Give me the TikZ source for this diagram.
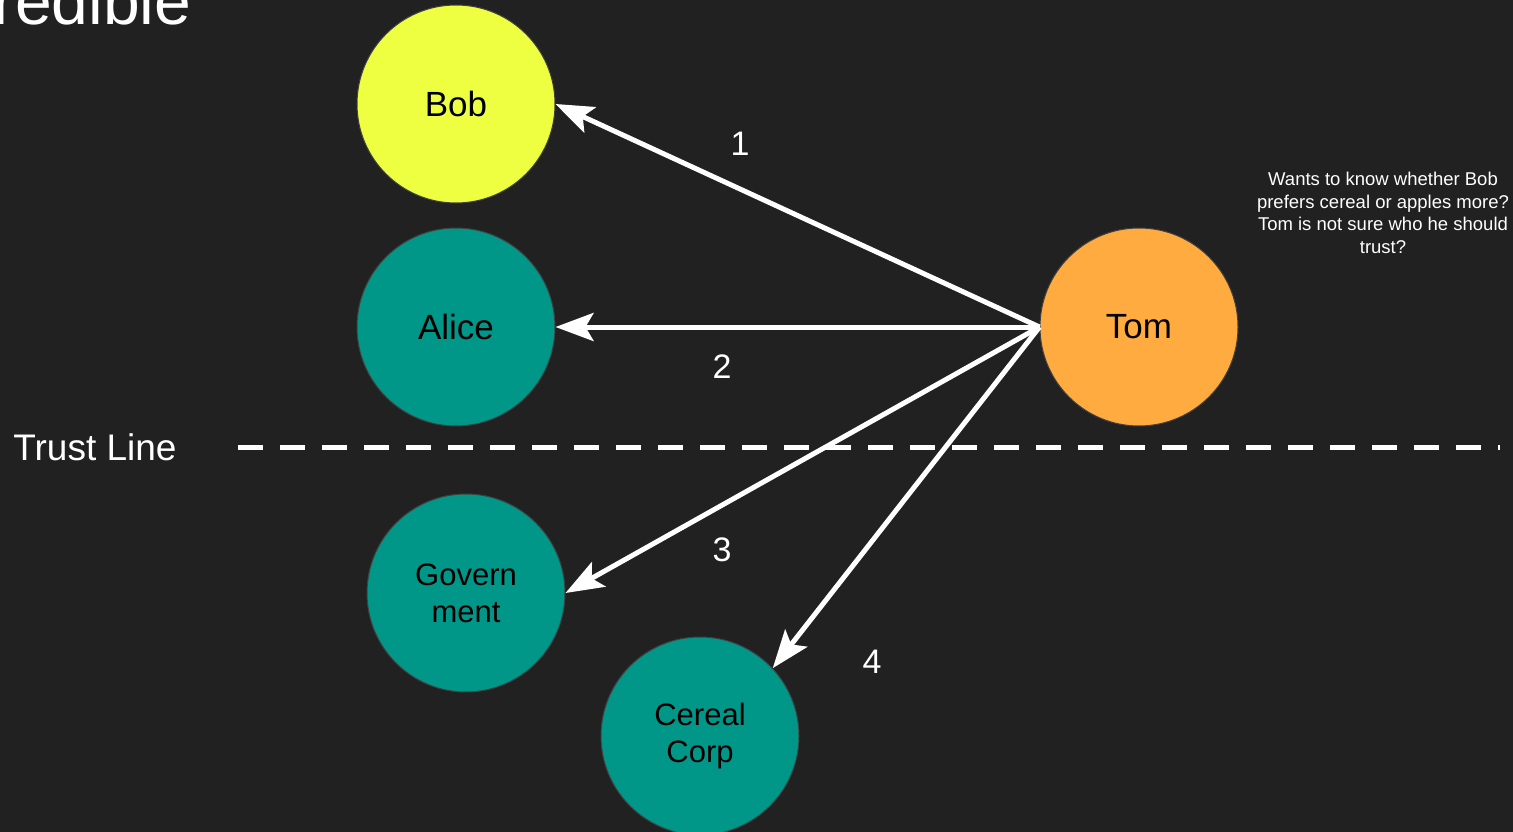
\documentclass[tikz,border=0pt]{standalone}
\usepackage{fontspec}
\setmainfont{Liberation Sans}
\usetikzlibrary{arrows.meta}

\definecolor{bgdark}{HTML}{212121}
\definecolor{lime}{HTML}{EEFF41}
\definecolor{teal}{HTML}{009688}
\definecolor{amber}{HTML}{FFAB40}

\begin{document}
\begin{tikzpicture}[x=1pt,y=-1pt,
  person/.style={circle,draw=black!75,line width=1pt,minimum size=198pt,inner sep=0pt,
    align=center,text=black,font=\fontsize{35}{40}\selectfont},
  party/.style={person,fill=teal,font=\fontsize{31}{37}\selectfont},
  flow/.style={white,line width=5pt,-{Stealth[length=38pt,width=28pt,inset=8pt]}},
  num/.style={text=white,font=\fontsize{34}{40}\selectfont}]
\useasboundingbox[fill=bgdark] (0,0) rectangle (1513,832);
%\draw[gray] (0,0) grid[step=100] (1513,832);
\node[anchor=base west,text=white,inner sep=0pt,font=\fontsize{66}{70}\selectfont] (title) at (-7,25) {redible};

\node[person,fill=lime] (bob) at (456,104) {Bob};
\node[person,fill=teal] (alice) at (456,327) {Alice};
\node[party] (govt) at (466,593) {Govern\\ment};
\node[party] (cereal) at (700,736) {Cereal\\Corp};
\node[person,fill=amber] (tom) at (1139,327) {Tom};

\node[text=white,align=center,font=\fontsize{18.5}{22.5}\selectfont] (note) at (1383,213)
  {Wants to know whether Bob\\prefers cereal or apples more?\\Tom is not sure who he should\\trust?};

% trust line
\node[text=white,font=\fontsize{37}{44}\selectfont] (trust) at (95,447) {Trust Line};
\coordinate (tl) at (238,447);
\coordinate (tr) at (1500,447);
\draw[white,line width=5pt,dash pattern=on 25pt off 17pt] (tl) -- (tr);

\foreach \to in {bob.east, alice.east, govt.east, cereal.43}
  \draw[flow] (tom.west) -- (\to);
\foreach \n/\p in {1/{740,144}, 2/{722,367}, 3/{722,550}, 4/{872,662}}
  \node[num] (n\n) at (\p) {\n};
\end{tikzpicture}
\end{document}
